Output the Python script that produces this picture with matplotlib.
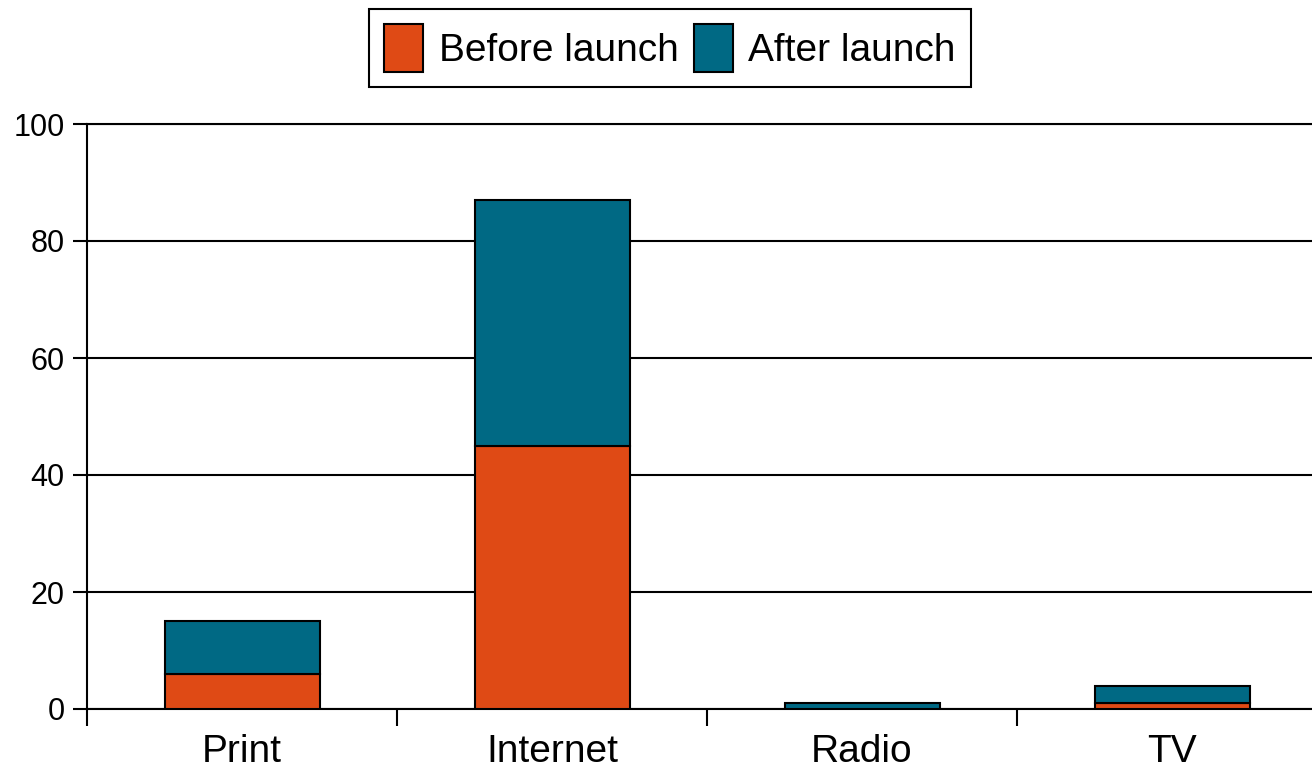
import matplotlib
matplotlib.use("Agg")
import matplotlib.pyplot as plt
import numpy as np

categories = ["Print", "Internet", "Radio", "TV"]
before = [6, 45, 0, 1]
after = [9, 42, 1, 3]
series_names = ["Before launch", "After launch"]
colors = ["#DF4A15", "#006984"]
yticks = [0, 20, 40, 60, 80, 100]

plt.rcParams['font.family'] = ['Liberation Sans', 'DejaVu Sans']

fig = plt.figure(figsize=(13.12, 7.72), dpi=100)
ax = fig.add_axes([87/1312, 1-709/772, (1327-87)/1312, (709-124)/772])

x = np.arange(len(categories))
b1 = ax.bar(x, before, width=0.5, color=colors[0], edgecolor="black", linewidth=1.5,
            label=series_names[0], zorder=3)
b2 = ax.bar(x, after, width=0.5, bottom=before, color=colors[1], edgecolor="black",
            linewidth=1.5, label=series_names[1], zorder=3)

ax.set_xlim(-0.5, len(categories) - 0.5)
ax.set_ylim(0, 100)
ax.set_yticks(yticks)
ax.set_yticklabels([str(v) for v in yticks], fontsize=22)
ax.yaxis.grid(True, color="black", linewidth=1.5, zorder=0)
ax.set_axisbelow(True)

ax.set_xticks(x)
ax.set_xticklabels(categories, fontsize=28)
ax.tick_params(axis="x", length=0, pad=18)
ax.set_xticks(np.arange(len(categories) + 1) - 0.5, minor=True)
ax.tick_params(axis="x", which="minor", length=12, width=1.5, direction="out")
ax.tick_params(axis="y", length=10, width=1.5, direction="out", pad=6)

ax.spines["right"].set_visible(False)
for s in ["left", "bottom", "top"]:
    ax.spines[s].set_linewidth(1.5)

leg = fig.legend(handles=[b1, b2], labels=series_names, loc="center",
                 bbox_to_anchor=(670/1312, 1-48/772), ncol=2, fontsize=28,
                 frameon=True, fancybox=False, edgecolor="black", framealpha=1,
                 handlelength=1.0, handleheight=1.5, handletextpad=0.4,
                 columnspacing=0.4, borderpad=0.4, borderaxespad=0)
leg.get_frame().set_linewidth(1.5)

fig.savefig("out.png", dpi=100)
